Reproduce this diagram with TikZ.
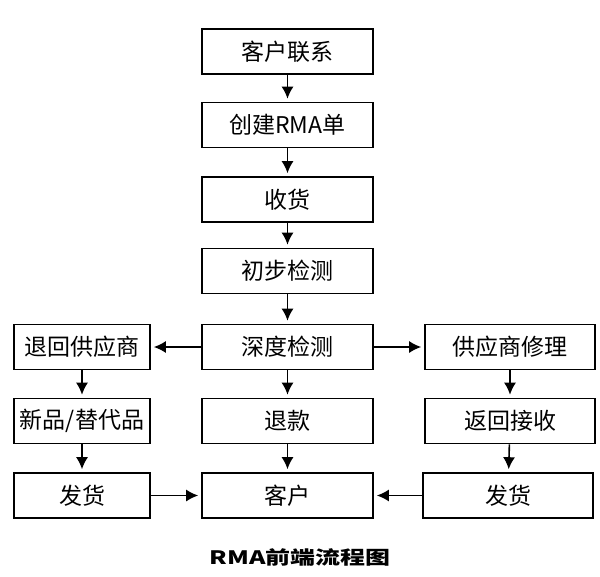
\documentclass[tikz,border=0pt]{standalone}
\usepackage{fontspec}
\setmainfont{Noto Sans CJK SC}
\usetikzlibrary{arrows.meta}
\begin{document}
\begin{tikzpicture}[>={Latex[length=12pt,width=12pt]}, x=1pt, y=-1pt,
  box/.style={draw, line width=1.6pt, inner sep=0pt, minimum height=45pt,
    font=\fontsize{23}{26}\selectfont},
  mid/.style={box, minimum width=171pt},
  side/.style={box, minimum width=136pt},
  rside/.style={box, minimum width=170pt},
  link/.style={->, line width=1.6pt, shorten >=3pt}]
\useasboundingbox (0,0) rectangle (600,576);
\node[mid] (lx) at (287.5,51.5) {客户联系};
\node[mid] (rma) at (287.5,125) {创建RMA单};
\node[mid] (sh) at (287.5,199.5) {收货};
\node[mid] (cb) at (287.5,271) {初步检测};
\node[mid] (sd) at (287.5,347) {深度检测};
\node[mid] (tk) at (287.5,421) {退款};
\node[mid] (kh) at (287.5,495.5) {客户};
\node[side] (th) at (82,347) {退回供应商};
\node[side] (xp) at (82,421) {新品/替代品};
\node[side] (fhl) at (82,495.5) {发货};
\node[rside] (wx) at (510,347) {供应商修理};
\node[rside] (js) at (510,421) {返回接收};
\node[rside] (fhr) at (508,495.5) {发货};
\draw[link] (lx) -- (rma);
\draw[link] (rma) -- (sh);
\draw[link] (sh) -- (cb);
\draw[link] (cb) -- (sd);
\draw[link] (sd) -- (tk);
\draw[link] (tk) -- (kh);
\draw[link] (sd) -- (th);
\draw[link] (sd) -- (wx);
\draw[link] (th) -- (xp);
\draw[link] (xp) -- (fhl);
\draw[link] (wx) -- (js);
\draw[link] (js) -- (fhr);
\draw[link] (fhl) -- (kh);
\draw[link] (fhr) -- (kh);
\node[font=\fontsize{18.5}{21}\selectfont\bfseries, xscale=1.35] (title) at (300,557) {RMA前端流程图};
\end{tikzpicture}
\end{document}
